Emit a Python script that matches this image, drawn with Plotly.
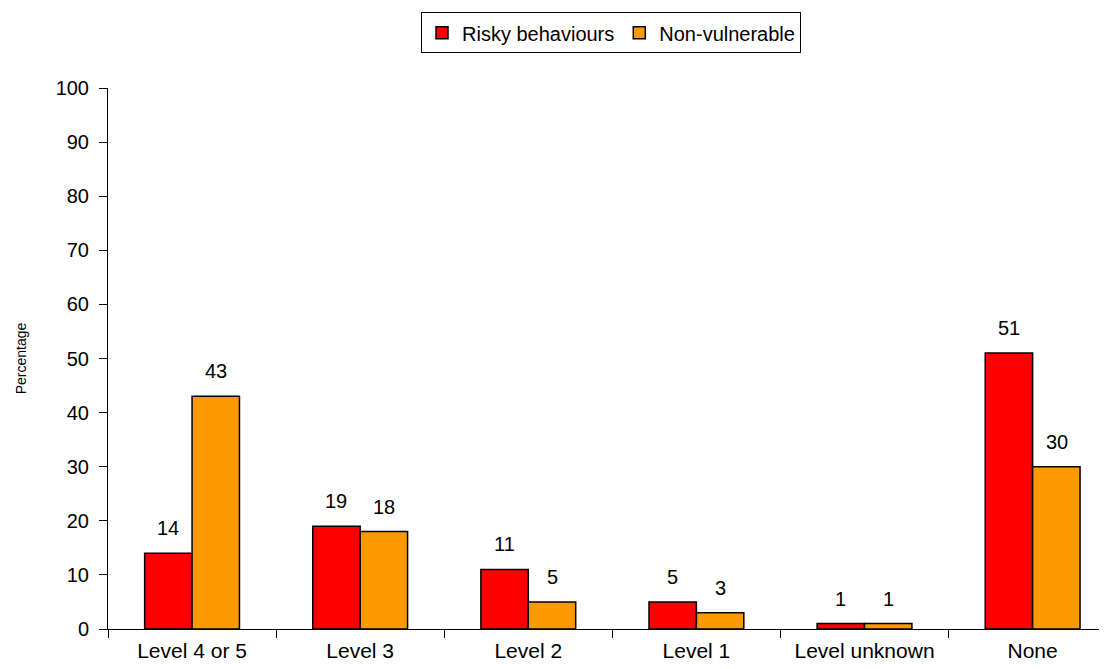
import plotly.graph_objects as go

categories = ['Level 4 or 5', 'Level 3', 'Level 2', 'Level 1', 'Level unknown', 'None']
risky = [14, 19, 11, 5, 1, 51]
non_vulnerable = [43, 18, 5, 3, 1, 30]

FONT = 'Liberation Sans, Arial, sans-serif'

fig = go.Figure()

fig.add_trace(go.Bar(
    x=categories, y=risky, name='Risky behaviours',
    marker=dict(color='#FF0000', line=dict(color='black', width=1.5))
))
fig.add_trace(go.Bar(
    x=categories, y=non_vulnerable, name='Non-vulnerable',
    marker=dict(color='#FF9900', line=dict(color='black', width=1.5))
))

# value labels above each bar (shifted half a bar width left/right)
for vals, shift in [(risky, -24), (non_vulnerable, 24)]:
    for cat, v in zip(categories, vals):
        fig.add_annotation(x=cat, y=v, text=str(v), showarrow=False,
                           xshift=shift, yshift=12, yanchor='bottom',
                           font=dict(size=20, color='black'))

fig.update_layout(
    width=1107, height=669,
    margin=dict(l=100, r=0, t=80, b=48, autoexpand=False),
    plot_bgcolor='white', paper_bgcolor='white',
    font=dict(family=FONT, size=20, color='black'),
    barmode='group', bargap=0.436, bargroupgap=0,
    showlegend=True,
    legend=dict(
        orientation='h', x=0.4995, y=1.102, xanchor='center', yanchor='middle',
        bordercolor='black', borderwidth=1,
        font=dict(size=20), itemwidth=30, traceorder='normal'
    ),
    xaxis=dict(
        range=[-0.5, 5.49], showline=True, linecolor='black', linewidth=1,
        ticks='outside', tickson='boundaries', ticklen=8, tickcolor='black',
        showgrid=False, automargin=False, tickfont=dict(size=21),
        ticklabelstandoff=3
    ),
    yaxis=dict(
        range=[0, 100], dtick=10, showline=True, linecolor='black', linewidth=1,
        ticks='outside', ticklen=8, tickcolor='black', showgrid=False,
        zeroline=False, automargin=False, tickfont=dict(size=20),
        ticklabelstandoff=6,
        title=dict(text='Percentage', font=dict(size=14), standoff=25)
    )
)

fig.write_html('out.html')
